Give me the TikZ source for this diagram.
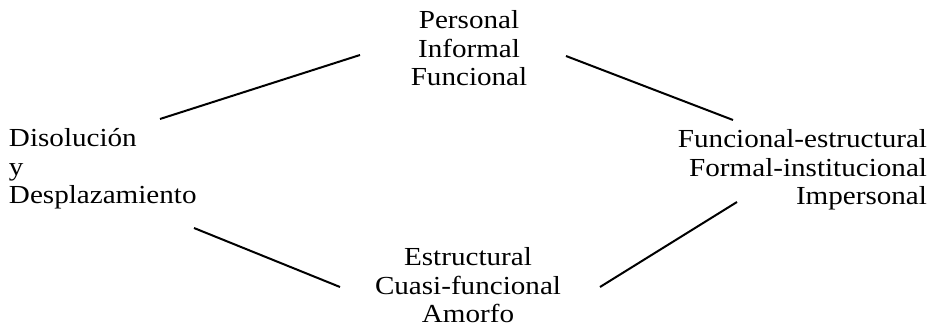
\documentclass[tikz,border=0pt]{standalone}
\usepackage{fontspec}
\setmainfont[FakeStretch=1.12]{Liberation Serif}
\begin{document}
\begin{tikzpicture}[x=1pt,y=-1pt,
  lbl/.style={inner sep=0pt,outer sep=0pt,font=\fontsize{26}{28.6}\selectfont},
  link/.style={line width=2pt,black}]
\useasboundingbox (0,0) rectangle (931,328);
\node[lbl,align=center,anchor=base] (top) at (469,86) {Personal\\Informal\\Funcional};
\node[lbl,align=left,anchor=base west] (left) at (9,204) {Disolución\\y\\Desplazamiento};
\node[lbl,align=right,anchor=base east] (right) at (927,205) {Funcional-estructural\\Formal-institucional\\Impersonal};
\node[lbl,align=center,anchor=base] (bottom) at (468,323) {Estructural\\Cuasi-funcional\\Amorfo};
\coordinate (tl1) at (160,119);
\coordinate (tl2) at (360,55);
\coordinate (tr1) at (566,56);
\coordinate (tr2) at (733,120);
\coordinate (bl1) at (194,228);
\coordinate (bl2) at (340,287);
\coordinate (br1) at (600,287);
\coordinate (br2) at (737,202);
\draw[link] (tl1) -- (tl2);
\draw[link] (tr1) -- (tr2);
\draw[link] (bl1) -- (bl2);
\draw[link] (br1) -- (br2);
\end{tikzpicture}
\end{document}
